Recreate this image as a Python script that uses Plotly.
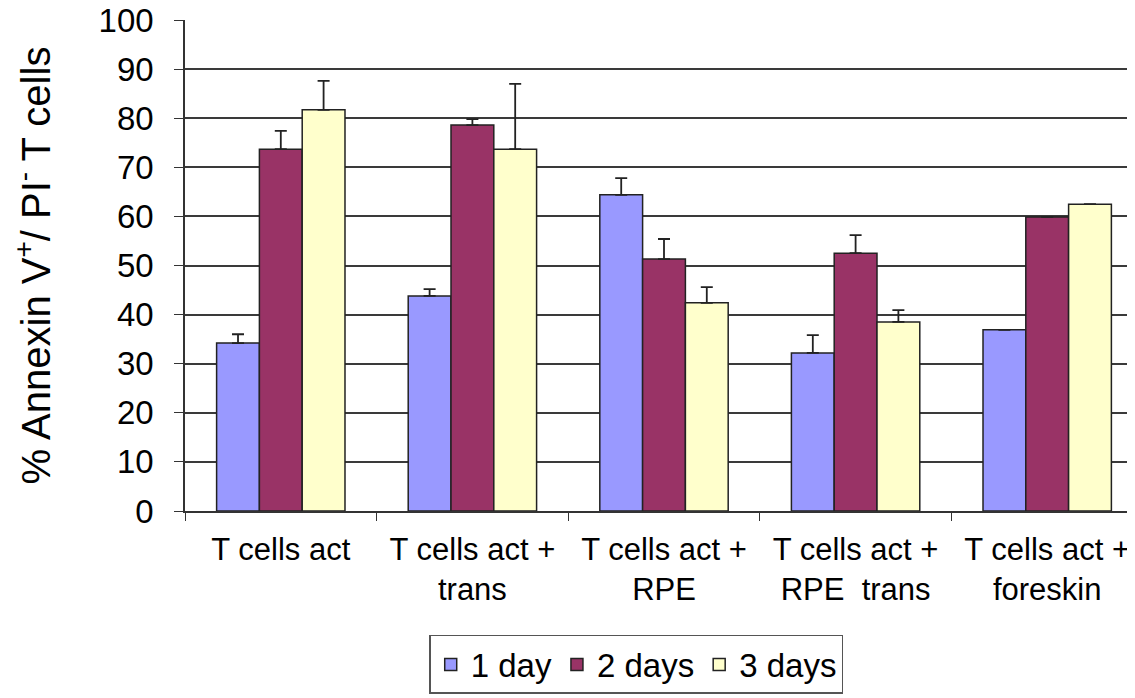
import plotly.graph_objects as go

categories = ["T cells act", "T cells act +<br>trans", "T cells act +<br>RPE",
              "T cells act +<br>RPE  trans", "T cells act +<br>foreskin"]
series_names = ["1 day", "2 days", "3 days"]
day1 = [34.2, 43.8, 64.4, 32.2, 36.9]
day2 = [73.7, 78.6, 51.3, 52.5, 59.9]
day3 = [81.7, 73.7, 42.4, 38.5, 62.5]
err1 = [1.8, 1.4, 3.4, 3.6, None]
err2 = [3.7, 1.2, 4.1, 3.7, None]
err3 = [5.9, 13.3, 3.2, 2.4, None]
colors = ["#9999FF", "#993366", "#FFFFCC"]
y_ticks = [0, 10, 20, 30, 40, 50, 60, 70, 80, 90, 100]

FONT = "Liberation Sans, Arial, sans-serif"

fig = go.Figure()
for name, vals, errs, col in zip(series_names, [day1, day2, day3], [err1, err2, err3], colors):
    fig.add_trace(go.Bar(
        x=categories, y=vals, name=name,
        marker=dict(color=col, line=dict(color="#222222", width=1.5)),
        error_y=dict(type="data", array=errs, arrayminus=[0] * len(errs), symmetric=False,
                     visible=True, color="#222222", thickness=1.8, width=6),
    ))

fig.update_layout(
    width=1135, height=698,
    margin=dict(l=177, r=0, t=12, b=195),
    paper_bgcolor="white", plot_bgcolor="white",
    barmode="group", bargap=0.33, bargroupgap=0,
    font=dict(family=FONT, color="black"),
    showlegend=True,
    legend=dict(orientation="h", x=0.471, xanchor="center", y=-0.2525, yanchor="top",
                font=dict(size=33, family=FONT), bordercolor="#555555", borderwidth=1.5,
                bgcolor="white", traceorder="normal", itemwidth=30),
    xaxis=dict(showline=True, linecolor="#333333", linewidth=1.5, automargin=False,
               ticks="outside", tickson="boundaries", ticklen=8, tickcolor="#333333",
               ticklabelstandoff=10, ticklabeloverflow="allow",
               tickfont=dict(size=31, family=FONT), showgrid=False),
    yaxis=dict(range=[0, 100], tickvals=y_ticks, showline=True, linecolor="#333333", linewidth=1.5,
               automargin=False, ticklabeloverflow="allow",
               ticks="outside", ticklen=9, tickcolor="#333333", ticklabelstandoff=14,
               tickfont=dict(size=33, family=FONT),
               showgrid=True, gridcolor="#3a3a3a", gridwidth=1.5, zeroline=False,
               title=dict(text="% Annexin V<sup>+</sup>/ PI<sup>-</sup> T cells",
                          font=dict(size=40, family=FONT), standoff=60)),
)

fig.write_html("out.html")
